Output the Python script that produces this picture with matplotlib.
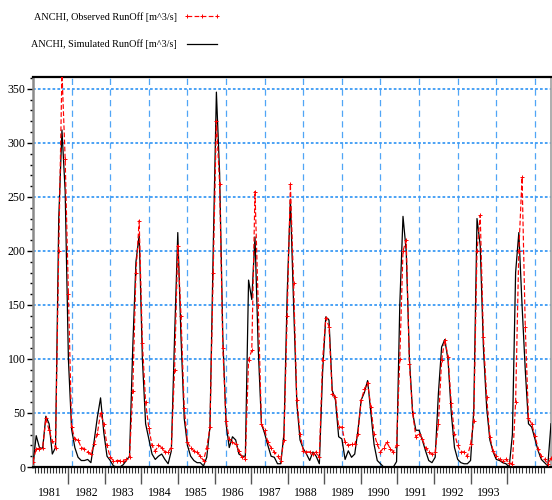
import numpy as np
import matplotlib
matplotlib.use("Agg")
import matplotlib.pyplot as plt
from matplotlib.ticker import FixedLocator, MultipleLocator

plt.rcParams['font.family'] = ['Liberation Serif', 'DejaVu Serif']

# ---- data: monthly runoff, Jan 1981 .. Jun 1994 ----
sim_1981 = [3, 29, 18, 17, 47, 40, 12, 18, 230, 312, 255, 100]
sim_1982 = [35, 18, 9, 6, 6, 7, 4, 24, 46, 64, 32, 10]
sim_1983 = [6, 1, 0, 0, 2, 6, 10, 110, 190, 215, 100, 40]
sim_1984 = [26, 12, 7, 10, 12, 7, 3, 15, 120, 217, 120, 45]
sim_1985 = [20, 10, 6, 4, 4, 1, 9, 37, 200, 347, 272, 120]
sim_1986 = [40, 18, 28, 25, 12, 10, 10, 173, 155, 213, 110, 40]
sim_1987 = [31, 20, 10, 9, 3, 3, 31, 160, 248, 150, 59, 25]
sim_1988 = [17, 12, 6, 14, 10, 3, 87, 139, 136, 71, 62, 28]
sim_1989 = [26, 7, 15, 9, 12, 34, 62, 69, 80, 50, 21, 6]
sim_1990 = [3, 0, 0, 0, 0, 5, 150, 232, 200, 100, 50, 34]
sim_1991 = [34, 25, 15, 6, 4, 9, 68, 111, 118, 99, 50, 18]
sim_1992 = [7, 4, 3, 3, 6, 53, 230, 205, 110, 55, 25, 14]
sim_1993 = [7, 6, 4, 3, 0, 30, 180, 217, 150, 90, 40, 37]
sim_1994 = [26, 15, 7, 4, 1, 40]

obs_1981 = [5, 17, 17, 18, 45, 34, 24, 18, 200, 366, 285, 160]
obs_1982 = [37, 26, 25, 18, 17, 14, 12, 21, 31, 50, 40, 20]
obs_1983 = [9, 6, 6, 6, 6, 7, 9, 70, 180, 228, 115, 60]
obs_1984 = [36, 20, 15, 20, 18, 14, 14, 18, 90, 205, 140, 55]
obs_1985 = [23, 18, 15, 14, 10, 6, 18, 37, 180, 320, 262, 110]
obs_1986 = [43, 26, 23, 21, 15, 9, 7, 99, 108, 255, 150, 40]
obs_1987 = [34, 23, 18, 14, 10, 6, 25, 140, 262, 170, 62, 31]
obs_1988 = [15, 14, 14, 12, 14, 9, 99, 138, 130, 68, 65, 37]
obs_1989 = [37, 23, 20, 21, 21, 31, 62, 72, 78, 56, 31, 21]
obs_1990 = [14, 18, 23, 17, 14, 20, 100, 200, 210, 95, 50, 28]
obs_1991 = [31, 26, 18, 14, 12, 14, 40, 99, 118, 102, 59, 31]
obs_1992 = [20, 14, 14, 10, 21, 43, 200, 233, 120, 65, 28, 15]
obs_1993 = [10, 7, 6, 7, 4, 3, 60, 200, 268, 130, 45, 40]
obs_1994 = [29, 17, 10, 7, 3, 8]

year_labels = ['1981', '1982', '1983', '1984', '1985', '1986', '1987',
               '1988', '1989', '1990', '1991', '1992', '1993']

sim = np.array(sim_1981 + sim_1982 + sim_1983 + sim_1984 + sim_1985 + sim_1986 +
               sim_1987 + sim_1988 + sim_1989 + sim_1990 + sim_1991 + sim_1992 +
               sim_1993 + sim_1994, dtype=float)
obs = np.array(obs_1981 + obs_1982 + obs_1983 + obs_1984 + obs_1985 + obs_1986 +
               obs_1987 + obs_1988 + obs_1989 + obs_1990 + obs_1991 + obs_1992 +
               obs_1993 + obs_1994, dtype=float)
x = np.arange(len(sim))

# ---- figure ----
fig = plt.figure(figsize=(5.52, 5.0), dpi=100)
ax = fig.add_axes([33 / 552, 33 / 500, 518 / 552, 390 / 500])
ax.set_xlim(0, len(sim) - 1)
ax.set_ylim(0, 361)

grid_c = '#3d9bf5'
for v in range(50, 351, 50):
    ax.axhline(v, color=grid_c, lw=1.3, ls=(0, (1.5, 1.2)), zorder=1)
for m in range(12, len(sim), 12):
    ax.axvline(m, color=grid_c, lw=0.9, ls=(0, (5, 3.5)), alpha=0.9, zorder=1)

l_sim, = ax.plot(x, sim, color='black', lw=0.9, zorder=3,
                 label='ANCHI, Simulated RunOff [m^3/s]')
l_obs, = ax.plot(x, obs, color='red', lw=0.85, ls=(0, (4, 2)), marker='+',
                 ms=2.3, mew=0.7, zorder=4,
                 label='ANCHI, Observed RunOff [m^3/s]')

# spines
ax.spines['left'].set_color('#8a8a8a')
ax.spines['left'].set_linewidth(1.8)
ax.spines['right'].set_color('#a0a0a0')
ax.spines['right'].set_linewidth(1.2)
ax.spines['top'].set_color('black')
ax.spines['top'].set_linewidth(1.6)
ax.spines['bottom'].set_color('black')
ax.spines['bottom'].set_linewidth(1.6)

# y ticks
ax.yaxis.set_major_locator(MultipleLocator(50))
ax.yaxis.set_minor_locator(MultipleLocator(10))
ax.tick_params(axis='y', which='major', length=4, width=1, labelsize=8.5, pad=1.5)
ax.tick_params(axis='y', which='minor', length=2.2, width=1)

# x ticks (year scale as in original)
tick_step = 11.37
tick0 = 10.95
bounds = [tick0 + k * tick_step for k in range(len(year_labels))]
label_pos = [b - tick_step / 2 for b in bounds]
minor = []
v = bounds[-1] + tick_step
while v > 0:
    minor.append(v)
    v -= tick_step / 12
ax.xaxis.set_major_locator(FixedLocator(bounds))
ax.xaxis.set_minor_locator(FixedLocator([m for m in minor if m <= len(sim) - 1]))
ax.tick_params(axis='x', which='major', length=12, width=1, color='#555555',
               labelbottom=False)
ax.tick_params(axis='x', which='minor', length=4, width=0.8, color='#333333')

sec = ax.secondary_xaxis('bottom')
sec.set_xticks(label_pos, labels=year_labels)
sec.tick_params(length=0, pad=14.5, labelsize=8.5)
sec.spines['bottom'].set_visible(False)

fig.legend(handles=[l_obs, l_sim], loc='upper left',
           bbox_to_anchor=(31 / 552, 1 - 12 / 500), frameon=False,
           markerfirst=False, fontsize=7.3, handlelength=3.6,
           handletextpad=0.7, labelspacing=1.75, borderpad=0,
           borderaxespad=0, numpoints=3)

fig.savefig('out.png', dpi=100)
